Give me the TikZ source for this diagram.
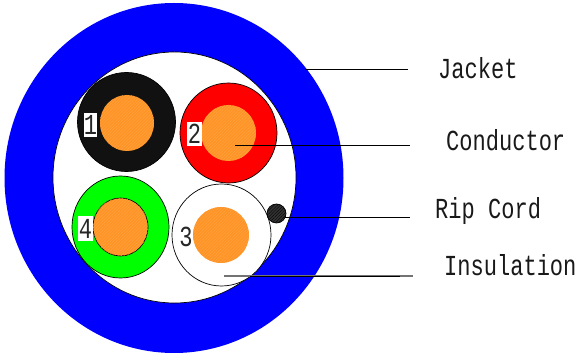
\documentclass[tikz,border=0pt]{standalone}
\usepackage{fontspec}
\usetikzlibrary{patterns.meta,shapes.geometric}
\newfontfamily\lblfont[FakeStretch=0.76]{Liberation Mono}
\definecolor{jacketblue}{RGB}{0,0,255}
\definecolor{coreorange}{RGB}{255,148,38}
\definecolor{coreline}{RGB}{255,165,70}
\definecolor{nearblack}{RGB}{17,17,17}
\definecolor{cordgrey}{RGB}{50,50,50}
\tikzset{
  x=1pt,y=-1pt,
  oval/.style 2 args={ellipse,inner sep=0pt,outer sep=0pt,minimum width=#1*1pt,minimum height=#2*1pt},
  rim/.style={draw=black,line width=.7pt},
  hatch/.style={postaction={pattern={Lines[angle=45,distance=2.2pt,line width=.35pt]},pattern color=#1}},
  tag/.style={fill=white,inner sep=0pt,minimum width=#1},
  num/.style={font=\lblfont\fontsize{29}{29}\selectfont,inner sep=0pt,text=black!85},
  lbl/.style={font=\lblfont\fontsize{29}{29}\selectfont,inner sep=0pt,anchor=west,text=black!90},
  lead/.style={draw=black,line width=.8pt},
  leadsoft/.style={draw=black!55,line width=1.2pt}
}
\begin{document}
\begin{tikzpicture}
\useasboundingbox (0,0) rectangle (579,355);
\fill[white] (0,0) rectangle (579,355);
\node[oval={339}{350},fill=jacketblue] (jacket) at (174,178) {};
\node[oval={243}{251},fill=white,rim] (inner) at (174.5,177.5) {};
% conductors
\node[oval={98}{99},fill=nearblack,rim] (c1) at (126.5,122) {};
\node[oval={54}{56},fill=coreorange,hatch=coreline] (k1) at (127,123) {};
\node[oval={97}{100},fill=red,rim] (c2) at (228.5,133) {};
\node[oval={55}{56},fill=coreorange,hatch=coreline] (k2) at (228.5,133) {};
\node[oval={97}{102},fill=green,rim] (c4) at (120.5,227) {};
\node[oval={55}{58},fill=coreorange,hatch=coreline,rim] (k4) at (120.5,227) {};
\node[oval={99}{102},fill=white,rim] (c3) at (221.5,235) {};
\node[oval={56}{56},fill=coreorange,hatch=coreline] (k3) at (221,235) {};
\node[oval={19}{19},fill=cordgrey,hatch=black,rim] (cord) at (276.5,213.5) {};
% number tags
\node[tag=13pt,minimum height=24pt] (t1) at (90.5,125) {};
\node[num] (n1) at (90.5,125) {1};
\node[tag=15pt,minimum height=24pt] (t2) at (194.5,134) {};
\node[num] (n2) at (194.5,134) {2};
\node[tag=15pt,minimum height=25pt] (t4) at (85.5,228.5) {};
\node[num] (n4) at (85.5,228.5) {4};
\node[num] (n3) at (186,237) {3};
% labels
\node[lbl] (ljacket) at (438,68) {Jacket};
\node[lbl] (lcond) at (446,140) {Conductor};
\node[lbl] (lrip) at (435,211) {Rip Cord};
\node[lbl] (lins) at (444,265) {Insulation};
% leaders
\coordinate (a1) at (305,69); \coordinate (a2) at (408,69);
\coordinate (b1) at (235,145); \coordinate (b2) at (410,145);
\coordinate (d1) at (285,217); \coordinate (d2) at (410,217);
\coordinate (e1) at (224,276); \coordinate (e2) at (413,276);
\coordinate (e3) at (250,276); \coordinate (e4) at (400,276);
\draw[lead] (a1) -- (a2);
\draw[lead] (b1) -- (b2);
\draw[lead] (d1) -- (d2);
\draw[leadsoft] (e1) -- (e2);
\draw[lead] (e3) -- (e4);
\end{tikzpicture}
\end{document}
